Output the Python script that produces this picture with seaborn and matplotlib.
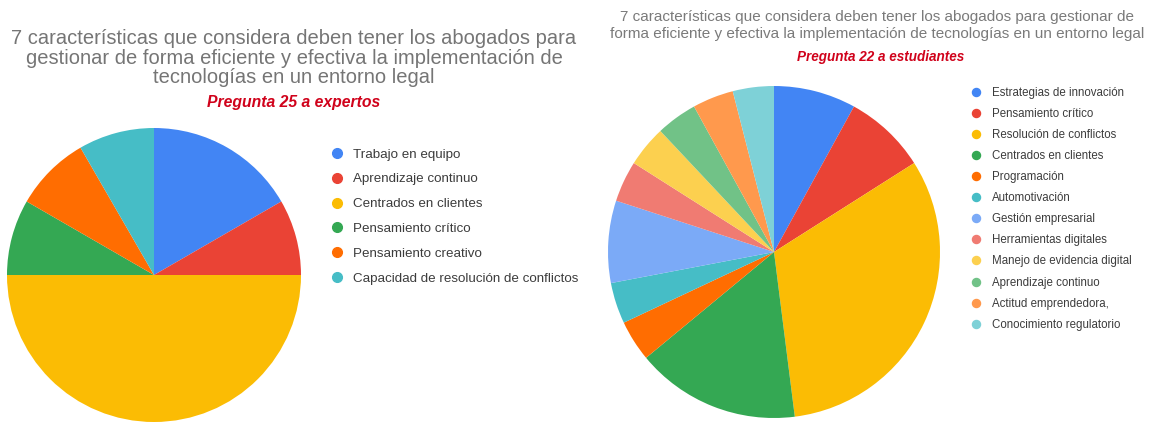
import matplotlib
matplotlib.use("Agg")
import matplotlib.pyplot as plt
from matplotlib.lines import Line2D
import seaborn as sns

# ---------------- data ----------------
title_left = ("7 características que considera deben tener los abogados para\n"
              "gestionar de forma eficiente y efectiva la implementación de\n"
              "tecnologías en un entorno legal")
subtitle_left = "Pregunta 25 a expertos"
labels_left = ["Trabajo en equipo", "Aprendizaje continuo", "Centrados en clientes",
               "Pensamiento crítico", "Pensamiento creativo",
               "Capacidad de resolución de conflictos"]
values_left = [2, 1, 6, 1, 1, 1]

title_right = ("7 características que considera deben tener los abogados para gestionar de\n"
               "forma eficiente y efectiva la implementación de tecnologías en un entorno legal")
subtitle_right = "Pregunta 22 a estudiantes"
labels_right = ["Estrategias de innovación", "Pensamiento crítico", "Resolución de conflictos",
                "Centrados en clientes", "Programación", "Automotivación",
                "Gestión empresarial", "Herramientas digitales", "Manejo de evidencia digital",
                "Aprendizaje continuo", "Actitud emprendedora,", "Conocimiento regulatorio"]
values_right = [2, 2, 8, 4, 1, 1, 2, 1, 1, 1, 1, 1]

palette = ["#4285F4", "#EA4335", "#FBBC04", "#34A853", "#FF6D01", "#46BDC6",
           "#7BAAF7", "#F07B72", "#FCD04F", "#71C287", "#FF994D", "#7ED1D7"]

# ---------------- style ----------------
sns.set_theme(style="white")
plt.rcParams["font.family"] = ["Liberation Sans", "DejaVu Sans"]

W, H = 1151, 441
fig = plt.figure(figsize=(W / 100, H / 100), dpi=100)
fig.patch.set_facecolor("white")

def px_axes(cx, cy, r):
    return fig.add_axes([(cx - r) / W, (H - cy - r) / H, 2 * r / W, 2 * r / H])

def fx(x):
    return x / W

def fy(y):
    return 1 - y / H

colors_left = sns.color_palette(palette[:len(values_left)])
colors_right = sns.color_palette(palette[:len(values_right)])

# ---------------- left pie ----------------
axl = px_axes(154, 275, 147)
axl.pie(values_left, colors=colors_left, startangle=90, counterclock=False,
        wedgeprops=dict(linewidth=0))
axl.set_xlim(-1, 1)
axl.set_ylim(-1, 1)
axl.axis("off")

fig.text(fx(294), fy(58), title_left, ha="center", va="center", fontsize=14.5,
         color="#757575", linespacing=1.03)
fig.text(fx(294), fy(103), subtitle_left, ha="center", va="center", fontsize=11.3,
         color="#d0021b", fontweight="bold", fontstyle="italic")

handles_l = [Line2D([], [], marker="o", linestyle="", markersize=7,
                    markerfacecolor=c, markeredgecolor=c) for c in colors_left]
legl = fig.legend(handles_l, labels_left, loc="upper left",
                  bbox_to_anchor=(fx(330.3), fy(148.3)), frameon=False, fontsize=9.64,
                  labelspacing=0.93, handlelength=1.0, handletextpad=0.69,
                  borderpad=0, borderaxespad=0)
for t in legl.get_texts():
    t.set_color("#3c3c3c")

# ---------------- right pie ----------------
axr = px_axes(774, 252, 166)
axr.pie(values_right, colors=colors_right, startangle=90, counterclock=False,
        wedgeprops=dict(linewidth=0))
axr.set_xlim(-1, 1)
axr.set_ylim(-1, 1)
axr.axis("off")

fig.text(fx(877), fy(25.5), title_right, ha="center", va="center", fontsize=11,
         color="#7a7a7a", linespacing=1.2)
fig.text(fx(881), fy(57), subtitle_right, ha="center", va="center", fontsize=9.75,
         color="#d0021b", fontweight="bold", fontstyle="italic")

handles_r = [Line2D([], [], marker="o", linestyle="", markersize=5.8,
                    markerfacecolor=c, markeredgecolor=c) for c in colors_right]
legr = fig.legend(handles_r, labels_right, loc="upper left",
                  bbox_to_anchor=(fx(970.2), fy(86.6)), frameon=False, fontsize=8.3,
                  labelspacing=0.79, handlelength=1.0, handletextpad=0.89,
                  borderpad=0, borderaxespad=0)
for t in legr.get_texts():
    t.set_color("#3c3c3c")

fig.savefig("out.png", dpi=100, facecolor="white")
